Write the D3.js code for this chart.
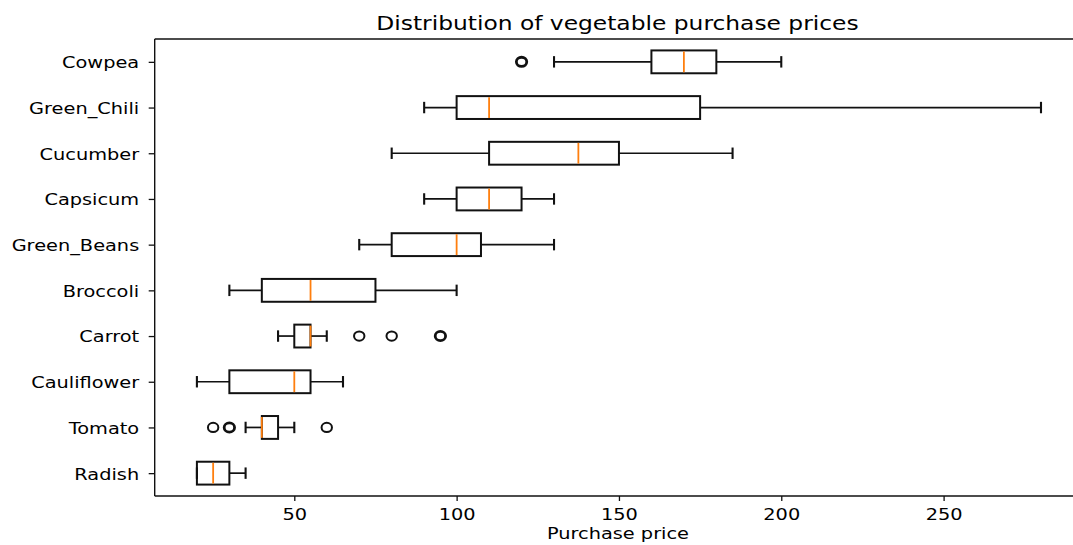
<!DOCTYPE html>
<html>
<head>
<meta charset="utf-8">
<script src="https://cdn.jsdelivr.net/npm/d3@7"></script>
<style>
  html, body { margin: 0; padding: 0; background: #fff; overflow: hidden; }
  svg { display: block; overflow: hidden; }
  text { font-family: "DejaVu Sans", sans-serif; fill: #000; }
</style>
</head>
<body>
<svg id="chart" width="1073" height="545"></svg>
<script>
// ---- data (bottom to top, position 1..10) ----
const categories = ["Radish", "Tomato", "Cauliflower", "Carrot", "Broccoli",
                    "Green_Beans", "Capsicum", "Cucumber", "Green_Chili", "Cowpea"];
const whiskerLow  = [20, 35, 20, 45, 30, 70, 90, 80, 90, 130];
const q1          = [20, 40, 30, 50, 40, 80, 100, 110, 100, 160];
const medians     = [25, 40, 50, 55, 55, 100, 110, 137.5, 110, 170];
const q3          = [30, 45, 55, 55, 75, 107.5, 120, 150, 175, 180];
const whiskerHigh = [35, 50, 65, 60, 100, 130, 130, 185, 280, 200];
const outliers    = [[], [25, 30, 30, 60], [], [70, 80, 95, 95], [], [], [], [], [], [120, 120]];
const xTicks      = [50, 100, 150, 200, 250];
const titleText   = "Distribution of vegetable purchase prices";
const xLabelText  = "Purchase price";

// ---- layout ----
const svg = d3.select("#chart");
const mLeft = 154.7, mRight = 1083.2, mTop = 39, mBottom = 496;
const SX = 1.18; // horizontal stretch of the reference rendering

const dataMin = d3.min(whiskerLow.concat(outliers.flat()));
const dataMax = d3.max(whiskerHigh.concat(outliers.flat()));
const pad = (dataMax - dataMin) * 0.05;
const x = d3.scaleLinear().domain([dataMin - pad, dataMax + pad]).range([mLeft, mRight]);
const y = d3.scaleLinear().domain([0.5, categories.length + 0.5]).range([mBottom, mTop]);
const boxH = y(0) - y(0.5);     // width 0.5
const capH = y(0) - y(0.25);    // cap 0.25

const rows = categories.map((c, i) => ({
  name: c, pos: i + 1, lo: whiskerLow[i], q1: q1[i], med: medians[i],
  q3: q3[i], hi: whiskerHigh[i], out: outliers[i]
}));

const stroke = "#111", lw = 1.7;
const g = svg.append("g");

rows.forEach(r => {
  const cy = y(r.pos);
  g.append("line").attr("x1", x(r.lo)).attr("x2", x(r.q1)).attr("y1", cy).attr("y2", cy)
    .attr("stroke", stroke).attr("stroke-width", lw);
  g.append("line").attr("x1", x(r.q3)).attr("x2", x(r.hi)).attr("y1", cy).attr("y2", cy)
    .attr("stroke", stroke).attr("stroke-width", lw);
  [r.lo, r.hi].forEach(v => {
    g.append("line").attr("x1", x(v)).attr("x2", x(v))
      .attr("y1", cy - capH / 2).attr("y2", cy + capH / 2)
      .attr("stroke", stroke).attr("stroke-width", 2.1);
  });
  g.append("rect").attr("x", x(r.q1)).attr("y", cy - boxH / 2)
    .attr("width", Math.max(0, x(r.q3) - x(r.q1))).attr("height", boxH)
    .attr("fill", "none").attr("stroke", stroke).attr("stroke-width", 2);
  g.append("line").attr("x1", x(r.med)).attr("x2", x(r.med))
    .attr("y1", cy - boxH / 2 + 1).attr("y2", cy + boxH / 2 - 1)
    .attr("stroke", "#ff7f0e").attr("stroke-width", 1.8);
  const counts = d3.rollup(r.out, v => v.length, d => d);
  counts.forEach((n, v) => {
    g.append("ellipse").attr("cx", x(v)).attr("cy", cy).attr("rx", 5.2).attr("ry", 4.6)
      .attr("fill", "none").attr("stroke", stroke).attr("stroke-width", n > 1 ? 2.8 : 2);
  });
});

// ---- spines (right spine falls outside the cropped view) ----
const sp = svg.append("g").attr("stroke", "#111").attr("stroke-width", 1.4);
sp.append("line").attr("x1", mLeft).attr("x2", mRight).attr("y1", mTop).attr("y2", mTop);
sp.append("line").attr("x1", mLeft).attr("x2", mRight).attr("y1", mBottom).attr("y2", mBottom);
sp.append("line").attr("x1", mLeft).attr("x2", mLeft).attr("y1", mTop).attr("y2", mBottom);

// ---- axes ----
const xAxis = svg.append("g").attr("transform", `translate(0,${mBottom})`)
  .call(d3.axisBottom(x).tickValues(xTicks).tickSize(5).tickFormat(d3.format("d")));
xAxis.select(".domain").remove();
xAxis.selectAll(".tick line").attr("stroke", "#111").attr("stroke-width", 1.3);
xAxis.selectAll(".tick text")
  .attr("y", 0).attr("dy", 0)
  .attr("transform", `translate(0,23.5) scale(${SX},1)`)
  .style("font-size", "16.4px").attr("fill", "#000");

const yAxis = svg.append("g").attr("transform", `translate(${mLeft},0)`)
  .call(d3.axisLeft(y).tickValues(rows.map(r => r.pos)).tickSize(6)
    .tickFormat(p => categories[p - 1]));
yAxis.select(".domain").remove();
yAxis.selectAll(".tick line").attr("stroke", "#111").attr("stroke-width", 1.3);
yAxis.selectAll(".tick text")
  .attr("x", 0).attr("dy", "0.36em")
  .attr("transform", `translate(-15.5,0) scale(${SX},1)`)
  .style("font-size", "16.4px").attr("fill", "#000");

// ---- title & label ----
svg.append("text")
  .attr("transform", `translate(${(mLeft + mRight) / 2 - 1.5},29.5) scale(${SX},1)`)
  .attr("text-anchor", "middle").style("font-size", "19.8px").text(titleText);
svg.append("text")
  .attr("transform", `translate(${(mLeft + mRight) / 2 - 1},539) scale(${SX},1)`)
  .attr("text-anchor", "middle").style("font-size", "16.4px").text(xLabelText);
</script>
</body>
</html>
